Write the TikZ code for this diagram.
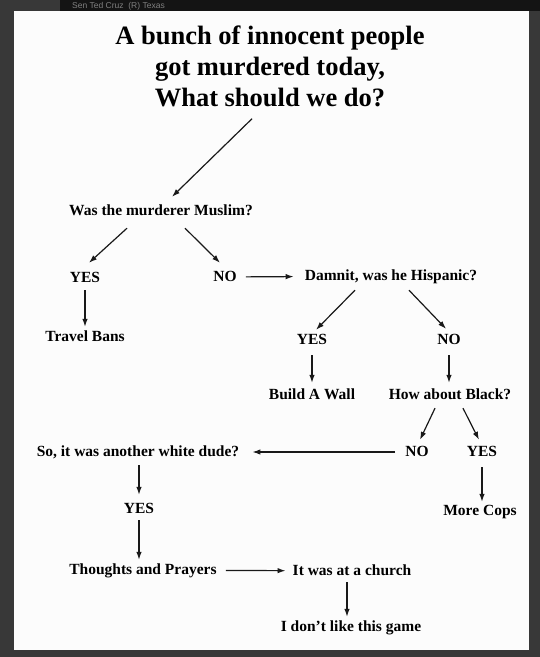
\documentclass[tikz,border=0pt]{standalone}
\usepackage{fontspec}
\setmainfont{Liberation Serif}
\newfontfamily\headfont{Liberation Sans}
\usetikzlibrary{arrows.meta,positioning}

\begin{document}
\begin{tikzpicture}[x=1pt, y=-1pt]
\tikzset{
   lbl/.style={font=\fontsize{15.5}{18}\selectfont\bfseries, inner sep=0pt, text height=11pt, text depth=3pt},
   arr/.style={-{Latex[length=8pt,width=5.5pt]}, line width=1.2pt, black!90},
}
% frame of the screenshot
\fill[black!78] (0,0) rectangle (540,657);
\fill[black!92] (60,0) rectangle (540,11);
\fill[white!99!black] (14,11) rectangle (529,650);
\node[font=\headfont\fontsize{8.5}{9}\selectfont, text=black!50, anchor=base west, inner sep=0pt] (header) at (72,8.5) {Sen Ted Cruz \ (R) Texas};
\useasboundingbox (0,0) rectangle (540,657);

\node[font=\fontsize{26.5}{31}\selectfont\bfseries, align=center, inner sep=0pt] (title) at (270,66)
   {A bunch of innocent people\\got murdered today,\\What should we do?};

\node[lbl] (muslim) at (161,211) {Was the murderer Muslim?};
\node[lbl] (yes1) at (85,278) {YES};
\node[lbl] (no1) at (225,277) {NO};
\node[lbl] (bans) at (85,337) {Travel Bans};
\node[lbl] (hisp) at (391,276) {Damnit, was he Hispanic?};
\node[lbl] (yes2) at (312,340) {YES};
\node[lbl] (no2) at (449,340) {NO};
\node[lbl] (wall) at (312,395) {Build A Wall};
\node[lbl] (black) at (450,395) {How about Black?};
\node[lbl] (no3) at (417,452) {NO};
\node[lbl] (yes3) at (482,452) {YES};
\node[lbl] (cops) at (480,511) {More Cops};
\node[lbl] (white) at (138,452) {So, it was another white dude?};
\node[lbl] (yes4) at (139,509) {YES};
\node[lbl] (prayers) at (143,570) {Thoughts and Prayers};
\node[lbl] (church) at (352,571) {It was at a church};
\node[lbl] (game) at (351,627) {I don't like this game};

% first question
\draw[arr] ([xshift=-18pt,yshift=-12pt]title.south) -- ([xshift=11pt,yshift=7pt]muslim.north);
\draw[arr] ([xshift=-34pt,yshift=-10pt]muslim.south) -- ([xshift=4pt,yshift=8pt]yes1.north);
\draw[arr] ([xshift=24pt,yshift=-10pt]muslim.south) -- ([xshift=-5pt,yshift=7pt]no1.north);
\draw[arr, shorten <=5pt, shorten >=3pt] (yes1.south) -- (yes1 |- bans.north);
\draw[arr, shorten <=9pt, shorten >=11pt] (no1) -- (hisp);

% second question
\draw[arr] ([xshift=-36pt,yshift=-7pt]hisp.south) -- ([xshift=4pt,yshift=3pt]yes2.north);
\draw[arr] ([xshift=18pt,yshift=-7pt]hisp.south) -- ([xshift=-3pt,yshift=4pt]no2.north);
\draw[arr, shorten <=8pt, shorten >=5pt] (yes2.south) -- (yes2 |- wall.north);
\draw[arr, shorten <=8pt, shorten >=5pt] (no2.south) -- (no2 |- black.north);

% third question
\draw[arr] ([xshift=-15pt,yshift=-6pt]black.south) -- ([xshift=3pt,yshift=5pt]no3.north);
\draw[arr] ([xshift=13pt,yshift=-6pt]black.south) -- ([xshift=-3pt,yshift=5pt]yes3.north);
\draw[arr, shorten <=8pt, shorten >=2pt] (yes3.south) -- (yes3 |- cops.north);
\draw[arr, shorten <=10pt, shorten >=13pt] (no3) -- (white);

% the end
\draw[arr, shorten <=6pt, shorten >=7pt] (white.south -| yes4) -- (yes4.north);
\draw[arr, shorten <=4pt, shorten >=3pt] (yes4.south) -- (yes4 |- prayers.north);
\draw[arr, shorten <=9pt, shorten >=7pt] (prayers) -- (church);
\draw[arr, shorten <=4pt, shorten >=3pt] ([xshift=-5pt]church.south) -- ([xshift=-5pt]church.south |- game.north);

\end{tikzpicture}
\end{document}
